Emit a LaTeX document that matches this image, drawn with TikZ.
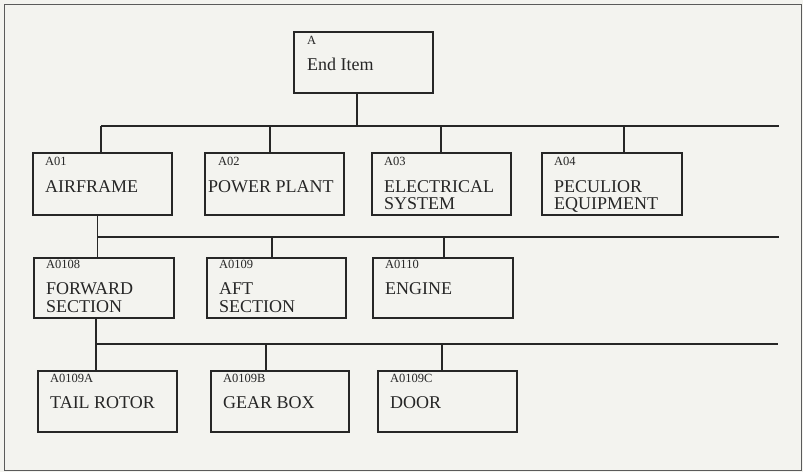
\documentclass[tikz,border=0pt]{standalone}
\usepackage{fontspec}
\setmainfont{Liberation Serif}
\definecolor{paper}{HTML}{F3F3EF}
\definecolor{ink}{HTML}{262626}
\definecolor{framec}{HTML}{5A5A5A}
\begin{document}
\begin{tikzpicture}[x=1pt,y=-1pt,
  box/.style={draw=ink, line width=1.5pt, inner sep=0pt, outer sep=0pt, anchor=north west},
  lbl/.style={text=ink, font=\fontsize{12.5}{13}\selectfont, inner sep=0pt, anchor=base west},
  txt/.style={text=ink, font=\fontsize{18}{18}\selectfont, inner sep=0pt, anchor=base west, text height=12.5pt, text depth=2pt},
  wire/.style={draw=ink, line width=1.6pt}]
\fill[paper] (0,0) rectangle (803,472);
\useasboundingbox (0,0) rectangle (803,472);
\draw[framec, line width=1pt] (4.5,4.5) rectangle (801,470);
% top box
\node[box, minimum width=139pt, minimum height=61pt] (a) at (294,32) {};
\node[lbl] (la) at (307,44) {A};
\node[txt] (ta) at (307,70) {End Item};
% row 1
\node[box, minimum width=139pt, minimum height=62pt] (a01) at (33,153) {};
\node[lbl] (la01) at (45,165) {A01};
\node[txt] (ta01) at (45,192) {AIRFRAME};
\node[box, minimum width=139pt, minimum height=62pt] (a02) at (205,153) {};
\node[lbl] (la02) at (218,165) {A02};
\node[txt] (ta02) at (208,192) {POWER PLANT};
\node[box, minimum width=139pt, minimum height=62pt] (a03) at (372,153) {};
\node[lbl] (la03) at (384,165) {A03};
\node[txt] (ta03) at (384,192) {ELECTRICAL};
\node[txt] (tb03) at (384,209.5) {SYSTEM};
\node[box, minimum width=140pt, minimum height=62pt] (a04) at (542,153) {};
\node[lbl] (la04) at (554,165) {A04};
\node[txt] (ta04) at (554,192) {PECULIOR};
\node[txt] (tb04) at (554,209.5) {EQUIPMENT};
% row 2
\node[box, minimum width=140pt, minimum height=60pt] (a0108) at (34,258) {};
\node[lbl] (la0108) at (46,268) {A0108};
\node[txt] (ta0108) at (46,294.5) {FORWARD};
\node[txt] (tb0108) at (46,312) {SECTION};
\node[box, minimum width=139pt, minimum height=60pt] (a0109) at (207,258) {};
\node[lbl] (la0109) at (219,268) {A0109};
\node[txt] (ta0109) at (219,294.5) {AFT};
\node[txt] (tb0109) at (219,312) {SECTION};
\node[box, minimum width=140pt, minimum height=60pt] (a0110) at (373,258) {};
\node[lbl] (la0110) at (385,268) {A0110};
\node[txt] (ta0110) at (385,294.5) {ENGINE};
% row 3
\node[box, minimum width=139pt, minimum height=61pt] (a0109a) at (38,371) {};
\node[lbl] (la0109a) at (50,382) {A0109A};
\node[txt] (ta0109a) at (50,408) {TAIL ROTOR};
\node[box, minimum width=138pt, minimum height=61pt] (a0109b) at (211,371) {};
\node[lbl] (la0109b) at (223,382) {A0109B};
\node[txt] (ta0109b) at (223,408) {GEAR BOX};
\node[box, minimum width=139pt, minimum height=61pt] (a0109c) at (378,371) {};
\node[lbl] (la0109c) at (390,382) {A0109C};
\node[txt] (ta0109c) at (390,408) {DOOR};
% bus 1
\coordinate (b1l) at (101,126);
\coordinate (b1r) at (779,126);
\coordinate (t0) at (357,126);
\coordinate (t2) at (270,126);
\coordinate (t3) at (441,126);
\coordinate (t4) at (624,126);
\draw[wire] (b1l) -- (b1r);
\draw[wire] (t0 |- a.south) -- (t0);
\draw[wire] (b1l) -- (b1l |- a01.north);
\draw[wire] (t2) -- (t2 |- a02.north);
\draw[wire] (t3) -- (t3 |- a03.north);
\draw[wire] (t4) -- (t4 |- a04.north);
% bus 2
\coordinate (b2l) at (97.5,237);
\coordinate (b2r) at (779,237);
\coordinate (u2) at (272,237);
\coordinate (u3) at (444,237);
\draw[wire] (b2l) -- (b2r);
\draw[wire] (b2l |- a01.south) -- (b2l);
\draw[wire] (b2l) -- (b2l |- a0108.north);
\draw[wire] (u2) -- (u2 |- a0109.north);
\draw[wire] (u3) -- (u3 |- a0110.north);
% bus 3
\coordinate (b3l) at (96,344);
\coordinate (b3r) at (778,344);
\coordinate (v2) at (266,344);
\coordinate (v3) at (442,344);
\draw[wire] (b3l) -- (b3r);
\draw[wire] (b3l |- a0108.south) -- (b3l);
\draw[wire] (b3l) -- (b3l |- a0109a.north);
\draw[wire] (v2) -- (v2 |- a0109b.north);
\draw[wire] (v3) -- (v3 |- a0109c.north);
\end{tikzpicture}
\end{document}
